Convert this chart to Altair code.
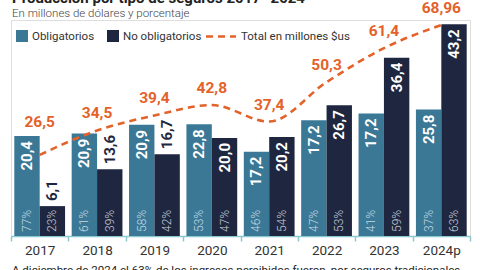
import altair as alt
import pandas as pd

years = ["2017", "2018", "2019", "2020", "2021", "2022", "2023", "2024p"]
oblig = [20.4, 20.9, 22.7, 22.8, 17.2, 23.6, 25.0, 25.8]
oblig_labels = ["20,4", "20,9", "20,9", "22,8", "17,2", "17,2", "17,2", "25,8"]
no_oblig = [6.1, 13.6, 16.7, 20.0, 20.2, 26.7, 36.4, 43.2]
no_oblig_labels = ["6,1", "13,6", "16,7", "20,0", "20,2", "26,7", "36,4", "43,2"]
pct_oblig = ["77%", "61%", "58%", "53%", "46%", "47%", "41%", "37%"]
pct_no_oblig = ["23%", "39%", "42%", "47%", "54%", "53%", "59%", "63%"]
totals = [26.5, 34.5, 39.4, 42.8, 37.4, 50.3, 61.4, 68.96]
total_labels = ["26,5", "34,5", "39,4", "42,8", "37,4", "50,3", "61,4", "68,96"]

C_OBL = "#3b7896"
C_NO = "#1f2740"
C_ORANGE = "#e4622a"
FONT = "Roboto"

rows = []
for i, y in enumerate(years):
    rows.append({"year": y, "tipo": "Obligatorios", "v": oblig[i], "lab": oblig_labels[i],
                 "pct": pct_oblig[i], "inside": oblig[i] >= 17})
    rows.append({"year": y, "tipo": "No obligatorios", "v": no_oblig[i], "lab": no_oblig_labels[i],
                 "pct": pct_no_oblig[i], "inside": no_oblig[i] >= 17})
bars_df = pd.DataFrame(rows)
tot_df = pd.DataFrame({"year": years, "total": totals, "lab": total_labels})

W, H = 459, 216
xscale = alt.Scale(paddingInner=0, paddingOuter=0)
xenc = alt.X("year:N", sort=years, scale=xscale,
             axis=alt.Axis(title=None, labelAngle=0, labelFont=FONT, labelFontSize=13.5,
                           labelColor="#333333", domainColor="#8cc8d0", domainWidth=1.5,
                           tickColor="#8cc8d0", tickSize=5, tickWidth=1.5, tickBand="extent",
                           labelPadding=2))
xoff = alt.XOffset("tipo:N", sort=["Obligatorios", "No obligatorios"],
                   scale=alt.Scale(paddingInner=0, paddingOuter=0.13))
ybar = alt.Y("v:Q", scale=alt.Scale(domain=[0, 44.08], nice=False), axis=None)
color = alt.Color("tipo:N", scale=alt.Scale(domain=["Obligatorios", "No obligatorios"],
                                            range=[C_OBL, C_NO]), legend=None)

base = alt.Chart(bars_df)
bars = base.mark_bar().encode(x=xenc, xOffset=xoff, y=ybar, color=color)

val_in = base.transform_filter("datum.inside").mark_text(
    angle=270, align="right", baseline="middle", dx=-5, font=FONT, fontSize=15,
    fontWeight="bold", color="white").encode(x=xenc, xOffset=xoff, y=ybar, text="lab:N")
val_out = base.transform_filter("!datum.inside").mark_text(
    angle=270, align="left", baseline="middle", dx=5, font=FONT, fontSize=15,
    fontWeight="bold", color=C_NO).encode(x=xenc, xOffset=xoff, y=ybar, text="lab:N")
pct = base.transform_calculate(zero="0").mark_text(
    angle=270, align="left", baseline="middle", dx=4, font=FONT, fontSize=12,
    fontWeight=300).encode(
    x=xenc, xOffset=xoff,
    y=alt.Y("zero:Q", scale=alt.Scale(domain=[0, 44.08], nice=False), axis=None),
    text="pct:N",
    color=alt.condition("datum.tipo == 'Obligatorios'", alt.value("#c3dae6"), alt.value("#c6cbd8")),
)

bar_layer = alt.layer(bars, val_in, val_out, pct)

yline = alt.Y("total:Q", scale=alt.Scale(domain=[0, 70.6], nice=False), axis=None)
xline = alt.X("year:N", sort=years, scale=xscale)
tbase = alt.Chart(tot_df)
line = tbase.mark_line(color=C_ORANGE, strokeWidth=2.6, strokeDash=[7, 5],
                       interpolate="monotone").encode(x=xline, y=yline)
tl_first = tbase.transform_filter("datum.year == '2017'").mark_text(
    font=FONT, fontSize=15.5, fontWeight="bold", color=C_ORANGE, dy=-33, baseline="middle"
).encode(x=xline, y=yline, text="lab:N")
tl_rest = tbase.transform_filter("datum.year != '2017'").mark_text(
    font=FONT, fontSize=15.5, fontWeight="bold", color=C_ORANGE, dy=-17, baseline="middle"
).encode(x=xline, y=yline, text="lab:N")
line_layer = alt.layer(line, tl_first, tl_rest)

one = pd.DataFrame({"a": [0]})
ann = alt.Chart(one)
title = ann.mark_text(text="Producción por tipo de seguros 2017- 2024", align="left",
                      baseline="alphabetic", font=FONT, fontSize=15, fontWeight="bold",
                      color="#222222").encode(x=alt.value(1), y=alt.value(-17))
subtitle = ann.mark_text(text="En millones de dólares y porcentaje", align="left",
                         baseline="alphabetic", font=FONT, fontSize=11.5, fontWeight=300,
                         color="#444444").encode(x=alt.value(1), y=alt.value(-3))
sq1 = ann.mark_rect(color=C_OBL).encode(x=alt.value(5), x2=alt.value(17), y=alt.value(10), y2=alt.value(22))
sq2 = ann.mark_rect(color=C_NO).encode(x=alt.value(96), x2=alt.value(108), y=alt.value(10), y2=alt.value(22))
dash = ann.mark_rule(color=C_ORANGE, strokeWidth=2.6, strokeDash=[7, 5]).encode(
    x=alt.value(195), x2=alt.value(225), y=alt.value(16.5))
lt1 = ann.mark_text(text="Obligatorios", align="left", baseline="middle", font=FONT,
                    fontSize=11.5, color="#333333").encode(x=alt.value(21), y=alt.value(17))
lt2 = ann.mark_text(text="No obligatorios", align="left", baseline="middle", font=FONT,
                    fontSize=11.5, color="#333333").encode(x=alt.value(112), y=alt.value(17))
lt3 = ann.mark_text(text="Total en millones $us", align="left", baseline="middle", font=FONT,
                    fontSize=11.5, color="#333333").encode(x=alt.value(230), y=alt.value(17))
foot = ann.mark_text(text="A diciembre de 2024 el 63% de los ingresos percibidos fueron, por seguros tradicionales",
                     align="left", baseline="alphabetic", font=FONT, fontSize=11.5,
                     color="#222222").encode(x=alt.value(1), y=alt.value(254))
ann_layer = alt.layer(title, subtitle, sq1, sq2, dash, lt1, lt2, lt3, foot)

chart = alt.layer(bar_layer, line_layer, ann_layer).resolve_scale(y="independent").properties(
    width=W, height=H,
    autosize=alt.AutoSizeParams(type="none"),
    padding={"left": 11, "top": 20, "right": 10, "bottom": 34},
).configure_view(stroke=None).configure(background="white")

chart.save("out.html", embed_options={"renderer": "svg", "actions": False})
